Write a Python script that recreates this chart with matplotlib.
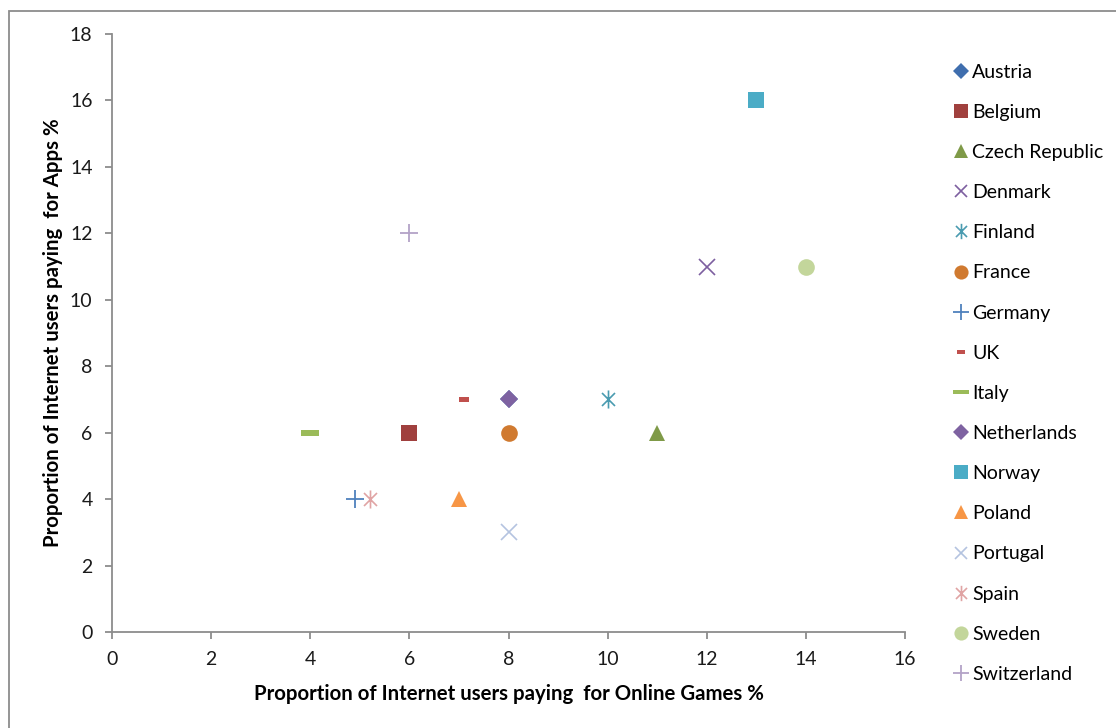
import numpy as np
import matplotlib.pyplot as plt
from matplotlib.path import Path
from matplotlib.patches import Rectangle

plt.rcParams['font.family'] = ['Lato', 'DejaVu Sans']

# Datos por país: (% juegos online, % apps)
countries = ['Austria', 'Belgium', 'Czech Republic', 'Denmark', 'Finland', 'France',
             'Germany', 'UK', 'Italy', 'Netherlands', 'Norway', 'Poland',
             'Portugal', 'Spain', 'Sweden', 'Switzerland']
games = [8, 6, 11, 12, 10, 8, 4.9, 7.1, 4, 8, 13, 7, 8, 5.2, 14, 6]
apps = [7, 6, 6, 11, 7, 6, 4, 7, 6, 7, 16, 4, 3, 4, 11, 12]

# Marcadores especiales
asterisk = Path([(0, -1), (0, 1), (-0.72, -0.72), (0.72, 0.72), (-0.72, 0.72), (0.72, -0.72)],
                [Path.MOVETO, Path.LINETO] * 3)
short_dash = Path([(-1, -0.5), (1, -0.5), (1, 0.5), (-1, 0.5), (-1, -0.5)],
                  [Path.MOVETO, Path.LINETO, Path.LINETO, Path.LINETO, Path.CLOSEPOLY])
long_dash = Path([(-1, -0.28), (1, -0.28), (1, 0.28), (-1, 0.28), (-1, -0.28)],
                 [Path.MOVETO, Path.LINETO, Path.LINETO, Path.LINETO, Path.CLOSEPOLY])

styles = {
    'Austria': dict(marker='D', color='#3F6EAE', ms=9),
    'Belgium': dict(marker='s', color='#A0403E', ms=12),
    'Czech Republic': dict(marker='^', color='#7F9A48', ms=12),
    'Denmark': dict(marker='x', color='#7D5FA0', ms=11, mew=1.2),
    'Finland': dict(marker=asterisk, color='#4A9BB0', ms=13, mew=1.2),
    'France': dict(marker='o', color='#D07A30', ms=12),
    'Germany': dict(marker='+', color='#4F81BD', ms=13, mew=1.3),
    'UK': dict(marker=short_dash, color='#C0504D', ms=7.2),
    'Italy': dict(marker=long_dash, color='#9BBB59', ms=13),
    'Netherlands': dict(marker='D', color='#7E62A1', ms=9.5),
    'Norway': dict(marker='s', color='#4BACC6', ms=12),
    'Poland': dict(marker='^', color='#F79646', ms=12),
    'Portugal': dict(marker='x', color='#B4C3E0', ms=11, mew=1.2),
    'Spain': dict(marker=asterisk, color='#E0A4A4', ms=13, mew=1.2),
    'Sweden': dict(marker='o', color='#C3D69B', ms=12),
    'Switzerland': dict(marker='+', color='#B3A2C7', ms=13, mew=1.3),
}

fig = plt.figure(figsize=(11.16, 7.28), dpi=100)
ax = fig.add_axes([112 / 1116, 1 - 632 / 728, (905 - 112) / 1116, (632 - 34) / 728])

for name, x, y in zip(countries, games, apps):
    st = styles[name]
    ax.plot([x], [y], linestyle='none', marker=st['marker'], markersize=st['ms'],
            color=st['color'], markeredgewidth=st.get('mew', 0), label=name)

ax.set_xlim(0, 16)
ax.set_ylim(0, 18)
ax.set_xticks(range(0, 17, 2))
ax.set_yticks(range(0, 19, 2))
for s in ['top', 'right']:
    ax.spines[s].set_visible(False)
for s in ['left', 'bottom']:
    ax.spines[s].set_color('#8C8C8C')
    ax.spines[s].set_linewidth(1.3)
ax.tick_params(direction='out', length=5, width=1.3, color='#8C8C8C',
               labelsize=14, pad=9, labelcolor='#1A1A1A')

ax.set_xlabel('Proportion of Internet users paying  for Online Games %', fontsize=14.7,
              fontweight='bold', labelpad=11)
ax.set_ylabel('Proportion of Internet users paying  for Apps %', fontsize=14.7,
              fontweight='bold', labelpad=5)

fig.legend(loc='upper left', bbox_to_anchor=(944 / 1116, 1 - 54 / 728), frameon=False,
           fontsize=14, handlelength=0.7, handletextpad=0.25, labelspacing=1.19,
           borderpad=0, markerscale=0.85)

# Borde del área del gráfico
fig.patches.append(Rectangle((9 / 1116, -0.1), 1.2, 1 - 11 / 728 + 0.1,
                             transform=fig.transFigure, fill=False,
                             edgecolor='#8C8C8C', linewidth=1.3))

fig.savefig('out.png', dpi=100)
